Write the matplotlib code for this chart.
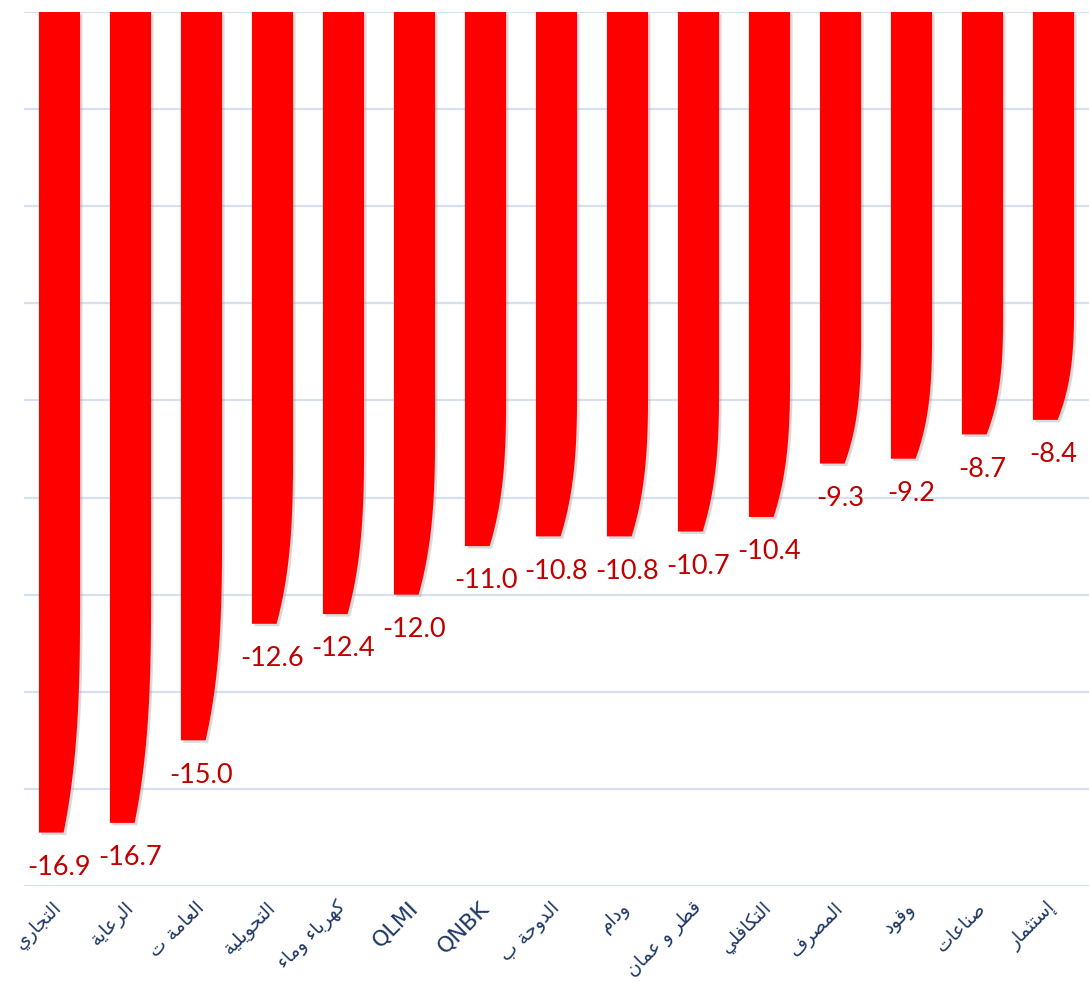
import numpy as np
import matplotlib
matplotlib.use("Agg")
import matplotlib.pyplot as plt
from matplotlib.patches import Polygon
from matplotlib import transforms

# stock names (Arabic, logical order) and their change in %
names = ["التجاري", "الرعاية", "العامة ت", "التحويلية", "كهرباء وماء", "QLMI", "QNBK",
         "الدوحة ب", "ودام", "قطر و عمان", "التكافلي", "المصرف", "وقود", "صناعات", "إستثمار"]
values = [-16.9, -16.7, -15.0, -12.6, -12.4, -12.0, -11.0,
          -10.8, -10.8, -10.7, -10.4, -9.3, -9.2, -8.7, -8.4]

# --- tiny arabic shaper: matplotlib has no shaping / bidi, so build the
# presentation forms by hand (isolated, final, initial, medial)
FORMS = {
    "ء": ("\uFE80",),
    "إ": ("\uFE87", "\uFE88"),
    "ا": ("\uFE8D", "\uFE8E"),
    "ب": ("\uFE8F", "\uFE90", "\uFE91", "\uFE92"),
    "ة": ("\uFE93", "\uFE94"),
    "ت": ("\uFE95", "\uFE96", "\uFE97", "\uFE98"),
    "ث": ("\uFE99", "\uFE9A", "\uFE9B", "\uFE9C"),
    "ج": ("\uFE9D", "\uFE9E", "\uFE9F", "\uFEA0"),
    "ح": ("\uFEA1", "\uFEA2", "\uFEA3", "\uFEA4"),
    "د": ("\uFEA9", "\uFEAA"),
    "ر": ("\uFEAD", "\uFEAE"),
    "س": ("\uFEB1", "\uFEB2", "\uFEB3", "\uFEB4"),
    "ص": ("\uFEB9", "\uFEBA", "\uFEBB", "\uFEBC"),
    "ط": ("\uFEC1", "\uFEC2", "\uFEC3", "\uFEC4"),
    "ع": ("\uFEC9", "\uFECA", "\uFECB", "\uFECC"),
    "ف": ("\uFED1", "\uFED2", "\uFED3", "\uFED4"),
    "ق": ("\uFED5", "\uFED6", "\uFED7", "\uFED8"),
    "ك": ("\uFED9", "\uFEDA", "\uFEDB", "\uFEDC"),
    "ل": ("\uFEDD", "\uFEDE", "\uFEDF", "\uFEE0"),
    "م": ("\uFEE1", "\uFEE2", "\uFEE3", "\uFEE4"),
    "ن": ("\uFEE5", "\uFEE6", "\uFEE7", "\uFEE8"),
    "ه": ("\uFEE9", "\uFEEA", "\uFEEB", "\uFEEC"),
    "و": ("\uFEED", "\uFEEE"),
    "ي": ("\uFEF1", "\uFEF2", "\uFEF3", "\uFEF4"),
}


def shape(s):
    if not any(c in FORMS for c in s):
        return s
    out = []
    for i, c in enumerate(s):
        if c not in FORMS:
            out.append(c)
            continue
        prev = s[i - 1] if i > 0 else ""
        nxt = s[i + 1] if i + 1 < len(s) else ""
        j_prev = prev in FORMS and len(FORMS[prev]) == 4 and len(FORMS[c]) > 1
        j_next = len(FORMS[c]) == 4 and nxt in FORMS and len(FORMS[nxt]) > 1
        f = FORMS[c]
        if j_prev and j_next:
            out.append(f[3])
        elif j_prev:
            out.append(f[1])
        elif j_next:
            out.append(f[2])
        else:
            out.append(f[0])
    return "".join(out[::-1])


fig = plt.figure(figsize=(10.89, 9.83), dpi=100)
ax = fig.add_axes([24 / 1089, 97 / 983, 1065 / 1089, 874 / 983])

x = np.arange(len(values))
w = 0.58
frac = 0.3     # part of the bar where the right edge bends in
cut = 0.4      # how much of the width is cut away at the bottom
t = np.linspace(0, 1, 40)

shadow = transforms.offset_copy(ax.transData, fig=fig, x=2.5, y=-2.5, units="dots")
for xi, v in zip(x, values):
    x0, x1 = xi - w / 2, xi + w / 2
    ys = v * (1 - frac) + v * frac * t
    xs = x1 - cut * w * t ** 3
    pts = [(x0, 0), (x1, 0)] + list(zip(xs, ys)) + [(x0, v)]
    ax.add_patch(Polygon(pts, closed=True, facecolor="#9a9a9a", edgecolor="none",
                         alpha=0.35, transform=shadow, zorder=2))
    ax.add_patch(Polygon(pts, closed=True, facecolor="#FF0000", edgecolor="none", zorder=3))
    ax.annotate(f"{v:.1f}", (xi, v), xytext=(0, -16), textcoords="offset points",
                ha="center", va="top", fontsize=19.5, color="#C00000",
                family=["Lato", "DejaVu Sans"], zorder=4)

ax.set_xlim(-0.5, len(values) - 0.5)
ax.set_ylim(-18, 0)
ax.set_yticks(np.arange(-18, 1, 2))
ax.yaxis.grid(True, color="#D5E0F0", linewidth=1.6)
ax.set_axisbelow(True)
ax.tick_params(axis="y", left=False, labelleft=False)
ax.tick_params(axis="x", bottom=False, pad=10)
ax.set_xticks(x)
ax.set_xticklabels([shape(n) for n in names], rotation=45, ha="right", va="center",
                   rotation_mode="anchor", color="#1F3864", family="DejaVu Sans")
for lab, n in zip(ax.get_xticklabels(), names):
    lab.set_fontsize(16 if n.isascii() else 13.5)
for s in ax.spines.values():
    s.set_visible(False)

fig.savefig("out.png", dpi=100)
